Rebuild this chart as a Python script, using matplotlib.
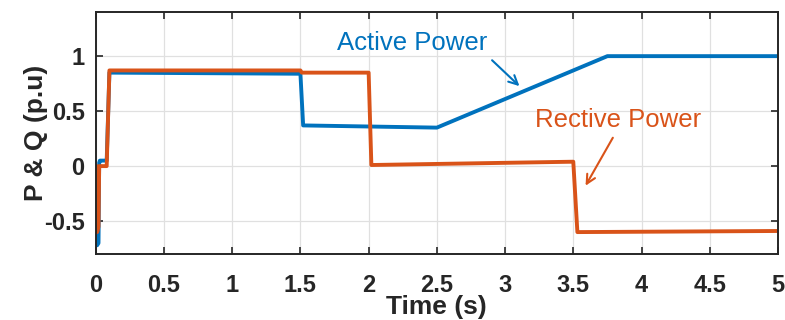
import matplotlib
matplotlib.use('agg')
import matplotlib.pyplot as plt

t_p = [0.0, 0.01, 0.02, 0.025, 0.03, 0.08, 0.1, 0.12, 1.5, 1.52, 2.5, 3.75, 5.0]
p = [-0.65, -0.72, -0.7, 0.03, 0.05, 0.05, 0.85, 0.85, 0.84, 0.37, 0.35, 1.0, 1.0]

t_q = [0.0, 0.01, 0.02, 0.025, 0.08, 0.1, 0.12, 1.5, 1.51, 2.0, 2.02, 3.5, 3.53, 5.0]
q = [0.0, -0.6, -0.55, 0.0, 0.0, 0.87, 0.87, 0.87, 0.85, 0.85, 0.01, 0.04, -0.6, -0.59]

blue = '#0072BD'
orange = '#D95319'

plt.rcParams['font.family'] = ['Liberation Sans', 'DejaVu Sans']

fig, ax = plt.subplots(figsize=(7.85, 3.2), dpi=100)
fig.subplots_adjust(left=0.122, right=0.991, top=0.962, bottom=0.206)

ax.plot(t_p, p, color=blue, lw=2.8)
ax.plot(t_q, q, color=orange, lw=2.8)

ax.set_xlim(0, 5)
ax.set_ylim(-0.8, 1.4)
ax.set_xticks([0, 0.5, 1, 1.5, 2, 2.5, 3, 3.5, 4, 4.5, 5])
ax.set_xticklabels(['0', '0.5', '1', '1.5', '2', '2.5', '3', '3.5', '4', '4.5', '5'])
ax.set_yticks([-0.5, 0, 0.5, 1])
ax.set_yticklabels(['-0.5', '0', '0.5', '1'])
ax.grid(True, color='#e0e0e0', lw=0.9)
ax.set_axisbelow(True)
ax.tick_params(direction='in', top=True, right=True, length=5, width=1.2,
               labelsize=17, colors='#262626')
ax.tick_params(axis='x', pad=14)
ax.tick_params(axis='y', pad=8)
for lbl in ax.get_xticklabels() + ax.get_yticklabels():
    lbl.set_fontweight('bold')
for s in ax.spines.values():
    s.set_linewidth(1.4)
    s.set_color('#262626')

ax.set_xlabel('Time (s)', fontsize=19, fontweight='bold', color='#262626', labelpad=-1)
ax.set_ylabel('P & Q (p.u)', fontsize=19, fontweight='bold', color='#262626', labelpad=-3)

ax.text(2.32, 1.12, 'Active Power', color=blue, fontsize=18.5, ha='center', va='center')
ax.annotate('', xy=(3.12, 0.71), xytext=(2.89, 0.98),
            arrowprops=dict(arrowstyle='->', color=blue, lw=1.5, mutation_scale=16))
ax.text(3.83, 0.42, 'Rective Power', color=orange, fontsize=18.5, ha='center', va='center')
ax.annotate('', xy=(3.58, -0.2), xytext=(3.8, 0.28),
            arrowprops=dict(arrowstyle='->', color=orange, lw=1.5, mutation_scale=16))

fig.savefig('out.png')
